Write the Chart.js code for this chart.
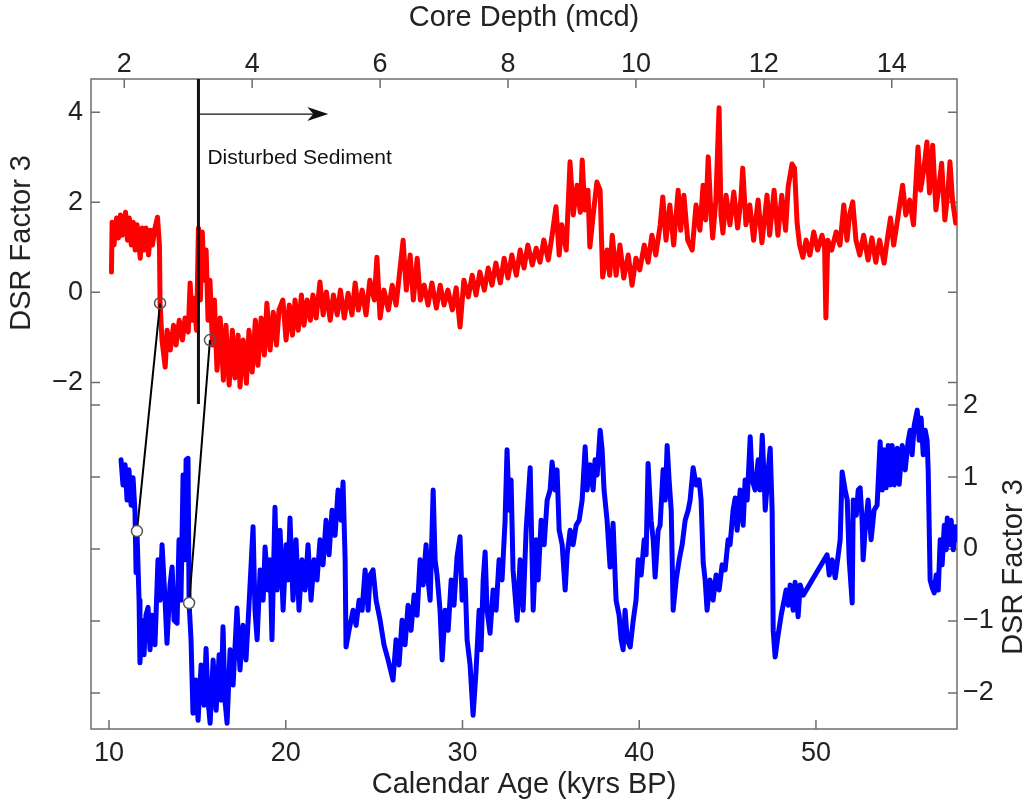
<!DOCTYPE html>
<html>
<head>
<meta charset="utf-8">
<script src="https://cdn.jsdelivr.net/npm/chart.js@4.4.1/dist/chart.umd.min.js"></script>
<style>
  html, body { margin: 0; padding: 0; background: #fff; }
  #wrap { width: 1036px; height: 809px; }
</style>
</head>
<body>
<div id="wrap"><canvas id="chart-1" width="1036" height="809"></canvas></div>
<script>
// red record: DSR factor 3 against core depth (top / left axes)
const redDepth = [
  1.80,1.81,1.84,1.88,1.91,1.94,1.97,2.02,2.05,2.08,
  2.11,2.14,2.17,2.20,2.25,2.28,2.31,2.34,2.38,2.41,
  2.44,2.48,2.52,2.55,2.56,2.59,2.64,2.67,2.72,2.77,
  2.81,2.86,2.91,2.95,3.00,3.03,3.06,3.09,3.13,3.16,
  3.19,3.22,3.25,3.28,3.31,3.34,3.38,3.41,3.45,3.50,
  3.55,3.59,3.64,3.69,3.73,3.78,3.81,3.86,3.91,3.95,
  4.00,4.05,4.09,4.14,4.19,4.23,4.28,4.33,4.38,4.42,
  4.48,4.53,4.58,4.63,4.67,4.72,4.77,4.81,4.86,4.91,
  4.95,5.00,5.06,5.11,5.16,5.22,5.27,5.33,5.38,5.44,
  5.50,5.56,5.61,5.66,5.72,5.78,5.84,5.91,5.95,6.00,
  6.06,6.13,6.19,6.25,6.31,6.36,6.41,6.47,6.52,6.58,
  6.63,6.69,6.75,6.81,6.88,6.94,7.00,7.06,7.13,7.19,
  7.25,7.31,7.38,7.44,7.50,7.56,7.63,7.69,7.75,7.81,
  7.88,7.94,8.00,8.06,8.13,8.19,8.25,8.31,8.38,8.44,
  8.50,8.56,8.63,8.69,8.75,8.80,8.84,8.91,8.97,9.02,
  9.08,9.13,9.16,9.20,9.25,9.28,9.34,9.39,9.44,9.48,
  9.55,9.59,9.63,9.69,9.75,9.81,9.88,9.94,10.00,10.06,
  10.13,10.19,10.25,10.31,10.38,10.42,10.47,10.53,10.59,10.66,
  10.70,10.75,10.81,10.88,10.94,11.00,11.05,11.09,11.13,11.17,
  11.20,11.25,11.30,11.33,11.36,11.41,11.47,11.53,11.59,11.64,
  11.67,11.72,11.78,11.84,11.91,11.97,12.05,12.09,12.16,12.22,
  12.28,12.34,12.38,12.44,12.48,12.52,12.56,12.61,12.66,12.72,
  12.78,12.84,12.91,12.95,12.97,13.00,13.06,13.13,13.19,13.25,
  13.30,13.34,13.39,13.44,13.50,13.56,13.63,13.69,13.75,13.81,
  13.88,13.94,13.98,14.03,14.09,14.17,14.22,14.28,14.34,14.41,
  14.45,14.50,14.55,14.59,14.64,14.69,14.73,14.78,14.83,14.88,
  14.91,14.95,15.00
];
const redValue = [
  0.45,1.56,1.05,1.65,1.21,1.72,1.27,1.78,1.16,1.65,
  1.05,1.56,0.94,1.50,0.76,1.43,0.94,1.43,0.83,1.38,
  1.05,1.43,1.67,1.05,-0.24,-1.06,-1.66,-0.84,-1.28,-0.73,
  -1.17,-0.62,-1.06,-0.57,-0.88,0.21,-0.62,-0.13,-0.84,1.43,
  -0.17,1.34,0.27,0.94,-0.62,0.27,-1.17,-0.17,-1.73,-0.57,
  -1.95,-0.73,-2.06,-0.84,-1.90,-0.95,-2.10,-1.06,-2.02,-0.84,
  -1.77,-0.62,-1.62,-0.57,-1.39,-0.24,-1.28,-0.44,-1.17,-0.39,
  -0.17,-1.06,-0.28,-0.95,-0.17,-0.84,-0.06,-0.73,-0.17,-0.62,
  -0.06,-0.57,0.23,-0.50,0.01,-0.62,-0.06,-0.50,0.05,-0.57,
  -0.02,-0.50,0.21,-0.39,0.05,-0.50,0.27,-0.17,0.78,-0.57,
  0.05,-0.39,0.16,-0.28,0.50,1.16,0.05,0.83,-0.17,0.76,
  -0.17,0.16,-0.28,0.21,-0.35,0.16,-0.28,0.05,-0.39,0.10,
  -0.77,0.27,-0.10,0.38,-0.06,0.45,0.05,0.54,0.16,0.65,
  0.21,0.76,0.32,0.83,0.38,0.94,0.54,1.05,0.61,0.98,
  0.67,1.16,0.72,1.27,1.90,0.83,1.50,0.94,2.90,1.72,
  2.38,1.78,2.94,1.83,2.27,1.01,1.83,2.45,2.27,0.34,
  0.94,0.38,1.27,0.38,1.05,0.32,0.83,0.16,0.76,0.50,
  1.05,0.67,1.27,0.83,1.50,2.12,1.16,1.94,1.05,2.27,
  1.38,2.16,1.16,0.94,1.94,1.38,2.38,1.61,3.01,1.83,
  1.21,2.05,4.10,1.72,1.32,2.16,1.50,2.23,1.43,2.05,
  2.76,1.50,1.94,1.16,2.05,1.10,2.16,1.27,2.27,1.27,
  2.16,1.38,2.34,2.85,2.76,1.54,1.05,0.78,1.16,0.83,
  1.34,0.94,1.27,0.98,-0.57,1.16,0.94,1.34,1.05,1.94,
  1.16,1.72,2.01,1.16,0.83,1.27,0.72,1.21,0.67,1.16,
  0.65,1.27,1.65,1.05,1.61,2.38,1.72,2.05,1.50,3.23,
  2.27,2.72,3.34,2.21,3.27,1.83,2.27,2.87,1.61,2.27,
  2.90,2.05,1.54
];

// blue record: DSR factor 3 against calendar age (bottom / right axes)
const blueAge = [
  10.68,10.79,10.91,11.02,11.13,11.25,11.36,11.47,11.53,11.58,
  11.70,11.75,11.87,11.98,12.09,12.21,12.32,12.43,12.60,12.77,
  12.89,13.00,13.17,13.28,13.45,13.57,13.68,13.85,13.96,14.07,
  14.19,14.30,14.36,14.47,14.53,14.64,14.75,14.92,15.04,15.21,
  15.38,15.49,15.60,15.72,15.89,16.06,16.23,16.34,16.45,16.56,
  16.68,16.85,17.02,17.24,17.41,17.58,17.75,17.92,18.15,18.26,
  18.38,18.55,18.72,18.83,19.00,19.11,19.22,19.39,19.51,19.68,
  19.85,20.02,20.13,20.24,20.41,20.58,20.75,20.92,21.09,21.26,
  21.43,21.60,21.77,21.94,22.11,22.28,22.45,22.62,22.79,22.96,
  23.13,23.24,23.36,23.41,23.58,23.81,23.98,24.15,24.32,24.49,
  24.66,24.77,24.94,25.11,25.34,25.56,25.79,26.07,26.24,26.41,
  26.58,26.75,26.92,27.09,27.26,27.43,27.60,27.77,27.94,28.05,
  28.17,28.34,28.45,28.56,28.73,28.85,29.02,29.19,29.36,29.52,
  29.69,29.86,29.98,30.15,30.26,30.43,30.60,30.77,30.94,31.05,
  31.17,31.28,31.39,31.56,31.73,31.90,32.07,32.24,32.41,32.52,
  32.64,32.75,32.86,33.09,33.26,33.43,33.60,33.71,33.83,33.94,
  34.00,34.17,34.28,34.45,34.62,34.79,34.96,35.07,35.24,35.35,
  35.47,35.64,35.81,35.92,36.09,36.26,36.43,36.60,36.77,36.94,
  37.05,37.22,37.39,37.50,37.62,37.79,37.90,38.01,38.18,38.35,
  38.52,38.69,38.86,38.98,39.09,39.20,39.32,39.49,39.66,39.82,
  39.94,40.11,40.28,40.39,40.50,40.67,40.79,40.90,41.07,41.18,
  41.35,41.47,41.58,41.69,41.81,41.92,42.09,42.26,42.43,42.60,
  42.77,42.88,43.05,43.22,43.39,43.50,43.62,43.73,43.84,44.01,
  44.18,44.35,44.52,44.69,44.86,45.03,45.14,45.31,45.43,45.54,
  45.71,45.88,45.99,46.11,46.28,46.39,46.56,46.73,46.84,46.96,
  47.07,47.13,47.30,47.41,47.52,47.58,47.69,47.86,48.03,48.20,
  48.31,48.43,48.54,48.71,48.82,48.99,49.11,49.28,50.63,50.75,
  50.92,51.09,51.26,51.37,51.48,51.65,51.77,51.88,52.05,52.11,
  52.28,52.39,52.50,52.61,52.67,52.78,52.95,53.12,53.29,53.46,
  53.63,53.75,53.86,53.97,54.09,54.20,54.31,54.43,54.60,54.71,
  54.88,55.05,55.22,55.33,55.44,55.56,55.73,55.84,55.95,56.07,
  56.18,56.29,56.35,56.46,56.58,56.69,56.80,56.92,57.03,57.14,
  57.26,57.37,57.43,57.54,57.65,57.77,57.88,57.99
];
const blueValue = [
  1.24,0.89,1.17,0.68,1.10,0.61,0.99,0.51,-0.33,0.25,
  -0.71,-1.58,-0.99,-1.47,-0.92,-0.81,-1.40,-0.92,-1.33,-0.15,
  -0.71,0.06,-0.71,-1.31,-0.50,-0.25,-0.99,-1.03,0.13,-0.71,
  1.03,-0.15,1.24,1.26,-0.75,-1.26,-2.28,-1.82,-2.38,-1.61,
  -2.17,-1.38,-2.10,-2.42,-1.54,-2.24,-1.47,-2.10,-1.08,-2.10,
  -2.42,-1.40,-1.89,-0.82,-1.68,-1.06,-1.54,-0.78,0.31,-0.85,
  -1.26,-0.29,-0.71,0.03,-0.57,-0.15,-1.26,0.58,-0.57,0.26,
  -0.85,0.06,-0.43,0.43,-0.71,0.13,-0.85,-0.15,-0.57,0.06,
  -0.71,-0.15,-0.43,0.13,-0.22,0.40,-0.08,0.54,0.19,0.82,
  0.40,0.93,-0.15,-1.36,-1.13,-0.85,-1.06,-0.71,-0.85,-0.29,
  -0.85,-0.36,-0.29,-0.71,-0.99,-1.33,-1.54,-1.82,-1.26,-1.61,
  -0.99,-1.33,-0.78,-1.13,-0.64,-0.92,-0.15,-0.50,0.06,-0.43,
  -0.71,0.82,-0.15,-0.36,-0.85,-1.54,-0.85,-1.13,-0.43,-0.78,
  -0.11,0.17,-0.71,-0.43,-1.26,-1.61,-2.31,-1.68,-0.85,-1.40,
  -0.43,-0.04,-0.85,-1.17,-0.57,-0.85,-0.15,-0.43,0.40,1.38,
  0.54,0.96,-0.29,-0.99,-0.15,-0.85,0.26,0.68,1.13,-0.15,
  -0.85,0.13,-0.43,0.40,0.06,0.68,0.82,1.21,0.82,1.10,
  0.26,0.06,-0.57,-0.08,0.26,0.06,0.33,0.40,0.68,1.42,
  0.82,1.17,0.82,1.24,1.03,1.65,1.38,0.82,0.40,-0.25,
  0.36,-0.71,-0.92,-1.26,-1.40,-0.85,-1.26,-1.36,-0.99,-0.71,
  -0.15,-0.36,0.13,-0.08,1.19,0.40,0.13,-0.39,0.26,0.33,
  1.10,0.68,1.44,0.96,0.54,-0.85,-0.43,-0.15,0.06,0.40,
  0.54,0.68,1.13,0.89,0.96,0.68,-0.19,-0.43,-0.85,-0.43,
  -0.71,-0.36,-0.57,-0.22,-0.29,0.13,0.06,0.54,0.71,0.26,
  0.82,0.33,0.96,0.68,1.56,0.96,0.82,1.24,0.82,1.58,
  0.96,0.54,1.10,1.40,0.54,-1.13,-1.50,-1.19,-0.92,-0.71,
  -0.57,-0.78,-0.50,-0.85,-0.46,-0.94,-0.50,-0.64,-0.08,-0.36,
  -0.15,-0.40,-0.08,0.13,1.07,0.82,0.68,-0.15,-0.75,0.68,
  0.47,0.82,0.85,0.40,-0.15,0.26,0.68,0.13,0.54,0.61,
  1.49,0.82,1.38,0.85,1.44,0.89,1.44,0.89,1.40,0.90,
  1.44,1.10,1.51,1.65,1.31,1.72,1.93,1.51,1.82,1.31,
  1.65,1.51,1.10,-0.43,-0.54,-0.61,-0.36,-0.57,0.13,-0.22,
  0.33,-0.01,0.43,0.06,0.40,-0.01,0.31,0.13
];

// tie points between the two records
const tieDepth = [2.56, 3.34];
const tieDepthValue = [-0.24, -1.06];
const tieAge = [11.58, 14.53];
const tieAgeValue = [0.25, -0.75];

// disturbed sediment marker (core depth)
const disturbedDepth = 3.16;
const disturbedArrowEnd = 5.19;

// tick labels
const depthTicks = [2, 4, 6, 8, 10, 12, 14];
const ageTicks = [10, 20, 30, 40, 50];
const leftTicks = [4, 2, 0, -2];
const rightTicks = [2, 1, 0, -1, -2];

const fam = '"Liberation Sans", Arial, Helvetica, sans-serif';
const ink = '#222';
const tickFont = {family: fam, size: 27};
const titleFont = {family: fam, size: 29};

function minus(v) {
  return v < 0 ? '\u2212' + Math.abs(v) : '' + v;
}
function fixedTicks(list) {
  return s => { s.ticks = list.map(v => ({value: v})); };
}

const frame = {
  id: 'frame',
  beforeDatasetsDraw(chart) {
    const {ctx, chartArea: a, scales: s} = chart;
    ctx.save();
    ctx.strokeStyle = '#6e6e6e';
    ctx.lineWidth = 1.5;
    ctx.strokeRect(a.left, a.top, a.right - a.left, a.bottom - a.top);
    ctx.beginPath();
    depthTicks.forEach(v => {
      const x = s.xTop.getPixelForValue(v);
      ctx.moveTo(x, a.top); ctx.lineTo(x, a.top + 9);
    });
    ageTicks.forEach(v => {
      const x = s.xBottom.getPixelForValue(v);
      ctx.moveTo(x, a.bottom); ctx.lineTo(x, a.bottom - 9);
    });
    const ys = leftTicks.map(v => s.yLeft.getPixelForValue(v))
      .concat(rightTicks.map(v => s.yRight.getPixelForValue(v)));
    ys.forEach(y => {
      ctx.moveTo(a.left, y); ctx.lineTo(a.left + 9, y);
      ctx.moveTo(a.right, y); ctx.lineTo(a.right - 9, y);
    });
    ctx.stroke();
    ctx.restore();
  },
  afterDatasetsDraw(chart) {
    const {ctx, chartArea: a, scales: s} = chart;
    ctx.save();

    // disturbed sediment line + arrow
    const vx = s.xTop.getPixelForValue(disturbedDepth);
    ctx.strokeStyle = '#111';
    ctx.lineWidth = 3;
    ctx.beginPath();
    ctx.moveTo(vx, a.top);
    ctx.lineTo(vx, s.yLeft.getPixelForValue(-2.48));
    ctx.stroke();

    const ay = s.yLeft.getPixelForValue(3.96);
    const ax = s.xTop.getPixelForValue(disturbedArrowEnd);
    ctx.lineWidth = 1.2;
    ctx.beginPath();
    ctx.moveTo(vx, ay);
    ctx.lineTo(ax - 10, ay);
    ctx.stroke();
    ctx.fillStyle = '#111';
    ctx.beginPath();
    ctx.moveTo(ax, ay);
    ctx.lineTo(ax - 21, ay - 7);
    ctx.lineTo(ax - 15, ay);
    ctx.lineTo(ax - 21, ay + 7);
    ctx.closePath();
    ctx.fill();

    ctx.fillStyle = '#111';
    ctx.font = '21px ' + fam;
    ctx.textAlign = 'left';
    ctx.textBaseline = 'middle';
    ctx.fillText('Disturbed Sediment', s.xTop.getPixelForValue(3.30), s.yLeft.getPixelForValue(2.98));

    // tie lines
    for (let i = 0; i < tieDepth.length; i++) {
      const x1 = s.xTop.getPixelForValue(tieDepth[i]);
      const y1 = s.yLeft.getPixelForValue(tieDepthValue[i]);
      const x2 = s.xBottom.getPixelForValue(tieAge[i]);
      const y2 = s.yRight.getPixelForValue(tieAgeValue[i]);
      ctx.strokeStyle = '#000';
      ctx.lineWidth = 2;
      ctx.beginPath();
      ctx.moveTo(x1, y1);
      ctx.lineTo(x2, y2);
      ctx.stroke();
      ctx.strokeStyle = '#555';
      ctx.lineWidth = 1.5;
      ctx.beginPath();
      ctx.arc(x1, y1, 5.5, 0, Math.PI * 2);
      ctx.stroke();
      ctx.fillStyle = '#fff';
      ctx.beginPath();
      ctx.arc(x2, y2, 5.5, 0, Math.PI * 2);
      ctx.fill();
      ctx.stroke();
    }

    // y axis titles, both read bottom to top
    ctx.fillStyle = ink;
    ctx.font = '29px ' + fam;
    ctx.textAlign = 'center';
    ctx.textBaseline = 'middle';
    [[s.yLeft.left + 22, s.yLeft.getPixelForValue(1.1)],
     [s.yRight.right - 22, s.yRight.getPixelForValue(-0.25)]].forEach(p => {
      ctx.save();
      ctx.translate(p[0], p[1]);
      ctx.rotate(-Math.PI / 2);
      ctx.fillText('DSR Factor 3', 0, 0);
      ctx.restore();
    });
    ctx.restore();
  }
};

const ctx = document.getElementById('chart-1');

new Chart(ctx, {
  type: 'line',
  data: {
    datasets: [{
      label: 'DSR Factor 3 (depth)',
      data: redDepth.map((d, i) => ({x: d, y: redValue[i]})),
      xAxisID: 'xTop',
      yAxisID: 'yLeft',
      borderColor: '#ff0000',
      borderWidth: 5,
      borderJoinStyle: 'round',
      borderCapStyle: 'round',
      pointRadius: 0,
      tension: 0
    }, {
      label: 'DSR Factor 3 (age)',
      data: blueAge.map((d, i) => ({x: d, y: blueValue[i]})),
      xAxisID: 'xBottom',
      yAxisID: 'yRight',
      borderColor: '#0000ff',
      borderWidth: 5,
      borderJoinStyle: 'round',
      borderCapStyle: 'round',
      pointRadius: 0,
      tension: 0
    }]
  },
  options: {
    responsive: false,
    animation: false,
    devicePixelRatio: 1,
    layout: {padding: 0},
    plugins: {
      legend: {display: false},
      tooltip: {enabled: false}
    },
    scales: {
      xTop: {
        type: 'linear', position: 'top', min: 1.48, max: 15.02,
        grid: {display: false, drawTicks: false}, border: {display: false},
        afterBuildTicks: fixedTicks(depthTicks),
        afterFit: s => { s.height = 79; },
        ticks: {color: ink, font: tickFont, padding: -2, maxRotation: 0, autoSkip: false, callback: minus},
        title: {display: true, text: 'Core Depth (mcd)', color: ink, font: titleFont, padding: {top: 1, bottom: 0}}
      },
      xBottom: {
        type: 'linear', position: 'bottom', min: 8.98, max: 57.98,
        grid: {display: false, drawTicks: false}, border: {display: false},
        afterBuildTicks: fixedTicks(ageTicks),
        afterFit: s => { s.height = 80; },
        ticks: {color: ink, font: tickFont, padding: 8, maxRotation: 0, autoSkip: false, callback: minus},
        title: {display: true, text: 'Calendar Age (kyrs BP)', color: ink, font: titleFont, padding: {top: 0, bottom: 7}}
      },
      yLeft: {
        type: 'linear', position: 'left', min: -9.7, max: 4.74,
        grid: {display: false, drawTicks: false}, border: {display: false},
        afterBuildTicks: fixedTicks(leftTicks),
        afterFit: s => { s.width = 91; },
        ticks: {color: ink, font: tickFont, padding: 8, autoSkip: false, callback: minus}
      },
      yRight: {
        type: 'linear', position: 'right', min: -2.5, max: 6.53,
        grid: {display: false, drawTicks: false}, border: {display: false},
        afterBuildTicks: fixedTicks(rightTicks),
        afterFit: s => { s.width = 79; },
        ticks: {color: ink, font: tickFont, padding: 6, autoSkip: false, callback: minus}
      }
    }
  },
  plugins: [frame]
});
</script>
</body>
</html>
